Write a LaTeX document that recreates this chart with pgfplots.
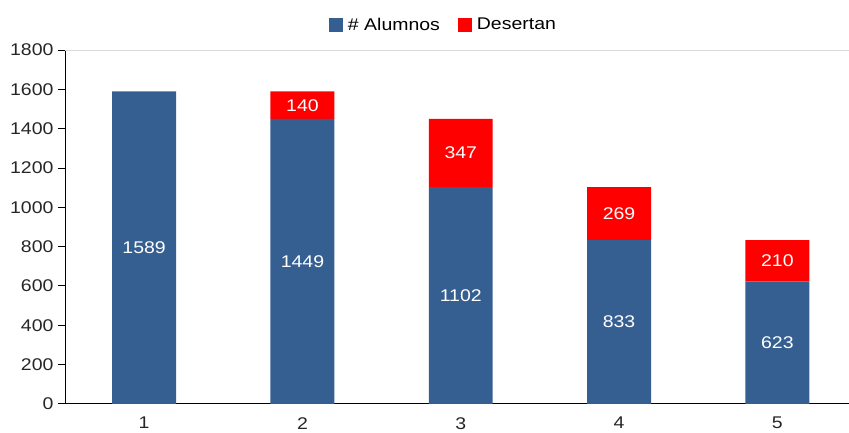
\documentclass[border=0pt]{standalone}
\usepackage{pgfplots}
\pgfplotsset{compat=1.18}
\usepackage{fontspec}
\setmainfont[FakeStretch=1.15]{Liberation Sans}
\definecolor{bblue}{HTML}{355F91}
\definecolor{bred}{HTML}{FF0000}
\pgfplotsset{common/.style={
  scale only axis,
  width=784bp, height=354bp,
  xmin=0.5, xmax=5.45,
  ymin=0, ymax=1800}}
\begin{document}
\begin{tikzpicture}
\begin{axis}[
  common,
  ybar stacked,
  bar width=64bp,
  ytick={0,200,...,1800},
  xtick={1,2,3,4,5},
  axis y line*=left,
  axis x line*=bottom,
  axis line style={black, thick},
  tick align=outside,
  major tick length=7bp,
  xtick style={draw=none},
  ytick style={black, thick},
  /pgf/number format/1000 sep={},
  /pgf/number format/assume math mode=true,
  tick label style={font=\fontsize{17}{19}\selectfont, text=black!85},
  yticklabel style={xshift=-1bp},
  xticklabel style={yshift=-3bp},
  legend style={at={(0.483,1.04)}, anchor=south, draw=none, legend columns=2,
    font=\fontsize{17}{19}\selectfont,
    /tikz/every odd column/.append style={column sep=3bp},
    /tikz/every even column/.append style={column sep=16bp}},
  legend image code/.code={\fill[#1] (5bp,-7bp) rectangle (19bp,7bp);},
  after end axis/.code={\draw[gray!30, thick] (rel axis cs:0,1) -- (rel axis cs:1,1);},
]
\addplot[fill=bblue, draw=none] coordinates {(1,1589) (2,1449) (3,1102) (4,833) (5,623)};
\addplot[fill=bred, draw=none] coordinates {(1,0) (2,140) (3,347) (4,269) (5,210)};
\legend{\# Alumnos, Desertan}
\end{axis}
\begin{axis}[
  common, hide axis,
  nodes near coords,
  point meta=explicit symbolic,
  every node near coord/.style={anchor=center, text=white, font=\fontsize{17}{19}\selectfont},
]
\addplot[only marks, mark=*, mark size=0.01pt, mark options={draw=none, fill=none}]
  coordinates {(1,794.5)[1589] (2,724.5)[1449] (3,551)[1102] (4,416.5)[833] (5,311.5)[623]
               (2,1519)[140] (3,1275.5)[347] (4,967.5)[269] (5,728)[210]};
\end{axis}
\path ([xshift=-65bp,yshift=-28bp]current axis.south west) rectangle ([yshift=50bp]current axis.north east);
\end{tikzpicture}
\end{document}
